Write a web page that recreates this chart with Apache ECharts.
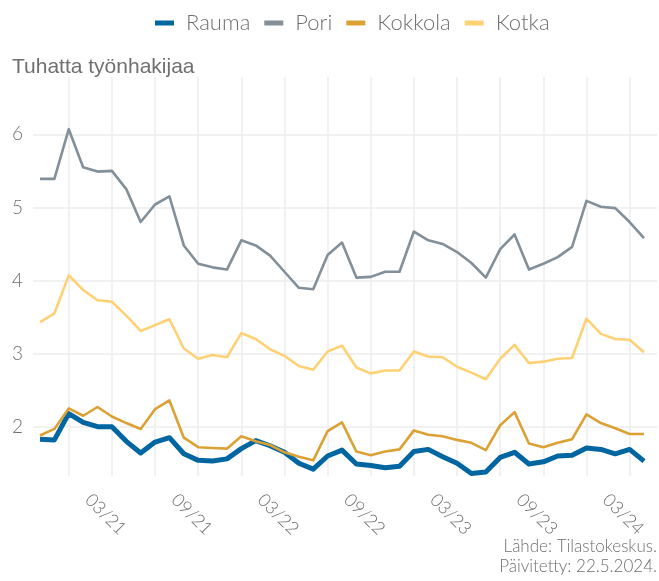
<!DOCTYPE html>
<html>
<head>
<meta charset="utf-8">
<script src="https://cdn.jsdelivr.net/npm/echarts@6/dist/echarts.min.js"></script>
<style>
html,body{margin:0;padding:0;background:#fff;}
#main{width:659px;height:581px;}
</style>
</head>
<body>
<div id="main"></div>
<script>
// kuukaudet 10/2020 - 04/2024
var months = ['10/20','11/20','12/20',
	'01/21','02/21','03/21','04/21','05/21','06/21','07/21','08/21','09/21','10/21','11/21','12/21',
	'01/22','02/22','03/22','04/22','05/22','06/22','07/22','08/22','09/22','10/22','11/22','12/22',
	'01/23','02/23','03/23','04/23','05/23','06/23','07/23','08/23','09/23','10/23','11/23','12/23',
	'01/24','02/24','03/24','04/24'];
var rauma = [1.83,1.82,2.18,2.06,2.00,2.00,1.80,1.64,1.79,1.85,1.63,1.54,1.53,1.56,1.70,1.81,1.74,1.65,1.50,1.42,1.60,
	1.68,1.49,1.47,1.44,1.46,1.66,1.69,1.59,1.50,1.36,1.38,1.58,1.65,1.49,1.52,1.60,1.61,1.71,1.69,1.63,1.69,1.53];
var pori = [5.39,5.39,6.07,5.55,5.49,5.50,5.25,4.80,5.04,5.15,4.48,4.23,4.18,4.15,4.55,4.48,4.34,4.12,3.90,3.88,4.35,
	4.52,4.04,4.05,4.12,4.12,4.67,4.55,4.50,4.39,4.24,4.04,4.43,4.63,4.15,4.23,4.32,4.46,5.09,5.01,4.99,4.80,4.58];
var kokkola = [1.88,1.97,2.25,2.15,2.27,2.14,2.05,1.97,2.24,2.36,1.85,1.72,1.71,1.70,1.87,1.80,1.75,1.65,1.59,1.54,1.94,
	2.06,1.66,1.61,1.66,1.69,1.95,1.89,1.87,1.82,1.78,1.68,2.02,2.20,1.77,1.72,1.78,1.83,2.17,2.05,1.98,1.90,1.90];
var kotka = [3.43,3.55,4.07,3.87,3.73,3.71,3.52,3.31,3.39,3.47,3.07,2.93,2.98,2.95,3.28,3.20,3.06,2.97,2.83,2.78,3.03,
	3.11,2.81,2.73,2.77,2.77,3.03,2.96,2.95,2.82,2.74,2.65,2.93,3.12,2.87,2.89,2.93,2.94,3.48,3.27,3.20,3.19,3.02];
var yMin = 1.326, yMax = 6.784;

var chart = echarts.init(document.getElementById('main'));
var txt = '#6f6f6f';
var grid_col = '#ececec';

function line(name, data, color, w) {
	return {
		name: name,
		type: 'line',
		xAxisIndex: 1,
		yAxisIndex: 1,
		data: data,
		symbol: 'none',
		smooth: false,
		animation: false,
		lineStyle: { color: color, width: w, join: 'round' },
		itemStyle: { color: color }
	};
}

var option = {
	backgroundColor: '#fff',
	animation: false,
	title: {
		text: 'Tuhatta työnhakijaa',
		left: 7,
		top: 52,
		textStyle: { fontFamily: 'Liberation Sans', fontSize: 21, fontWeight: 'normal', color: txt }
	},
	legend: {
		data: ['Rauma', 'Pori', 'Kokkola', 'Kotka'],
		left: 150,
		top: 7,
		icon: 'rect',
		itemWidth: 19,
		itemHeight: 5,
		itemGap: 14,
		textStyle: { fontFamily: 'Lato', fontWeight: 300, fontSize: 22, color: txt, padding: [0, 0, 0, 7] }
	},
	graphic: [{
		type: 'text',
		right: 2,
		bottom: 4,
		style: {
			text: 'Lähde: Tilastokeskus.\nPäivitetty: 22.5.2024.',
			textAlign: 'right',
			font: '300 17px Lato',
			lineHeight: 20,
			fill: txt
		}
	}],
	grid: [
		{ left: 33, right: 2, top: 77, bottom: 105 },
		{ left: 40, right: 15, top: 77, bottom: 105 }
	],
	xAxis: [
		{ gridIndex: 0, type: 'value', min: 0, max: 1, show: false },
		{
			gridIndex: 1,
			type: 'category',
			data: months,
			boundaryGap: false,
			axisLine: { show: false },
			axisTick: { show: false },
			splitLine: {
				show: true,
				interval: function (idx) { return idx % 3 === 2; },
				lineStyle: { color: grid_col, width: 1.5 }
			},
			axisLabel: {
				interval: function (idx) { return idx % 6 === 5; },
				rotate: -45,
				align: 'center',
				verticalAlign: 'top',
				margin: 32,
				fontFamily: 'Lato',
				fontWeight: 300,
				fontSize: 18,
				color: txt
			}
		}
	],
	yAxis: [
		{
			gridIndex: 0,
			type: 'value',
			min: yMin,
			max: yMax,
			axisLine: { show: false },
			axisTick: { show: false },
			splitLine: { show: true, showMinLine: false, showMaxLine: false, lineStyle: { color: grid_col, width: 1.5 } },
			axisLabel: {
				margin: 10,
				showMinLabel: false,
				showMaxLabel: false,
				fontFamily: 'Lato',
				fontWeight: 300,
				fontSize: 19,
				color: txt,
				formatter: function (v) { return Math.abs(v - Math.round(v)) < 1e-6 ? String(Math.round(v)) : ''; }
			}
		},
		{ gridIndex: 1, type: 'value', min: yMin, max: yMax, show: false, splitLine: { show: false } }
	],
	series: [
		{ type: 'line', xAxisIndex: 0, yAxisIndex: 0, data: [], silent: true },
		line('Rauma', rauma, '#0066a1', 5),
		line('Pori', pori, '#838f99', 2.6),
		line('Kokkola', kokkola, '#dca135', 2.6),
		line('Kotka', kotka, '#ffd175', 2.6)
	]
};
chart.setOption(option);
</script>
</body>
</html>
